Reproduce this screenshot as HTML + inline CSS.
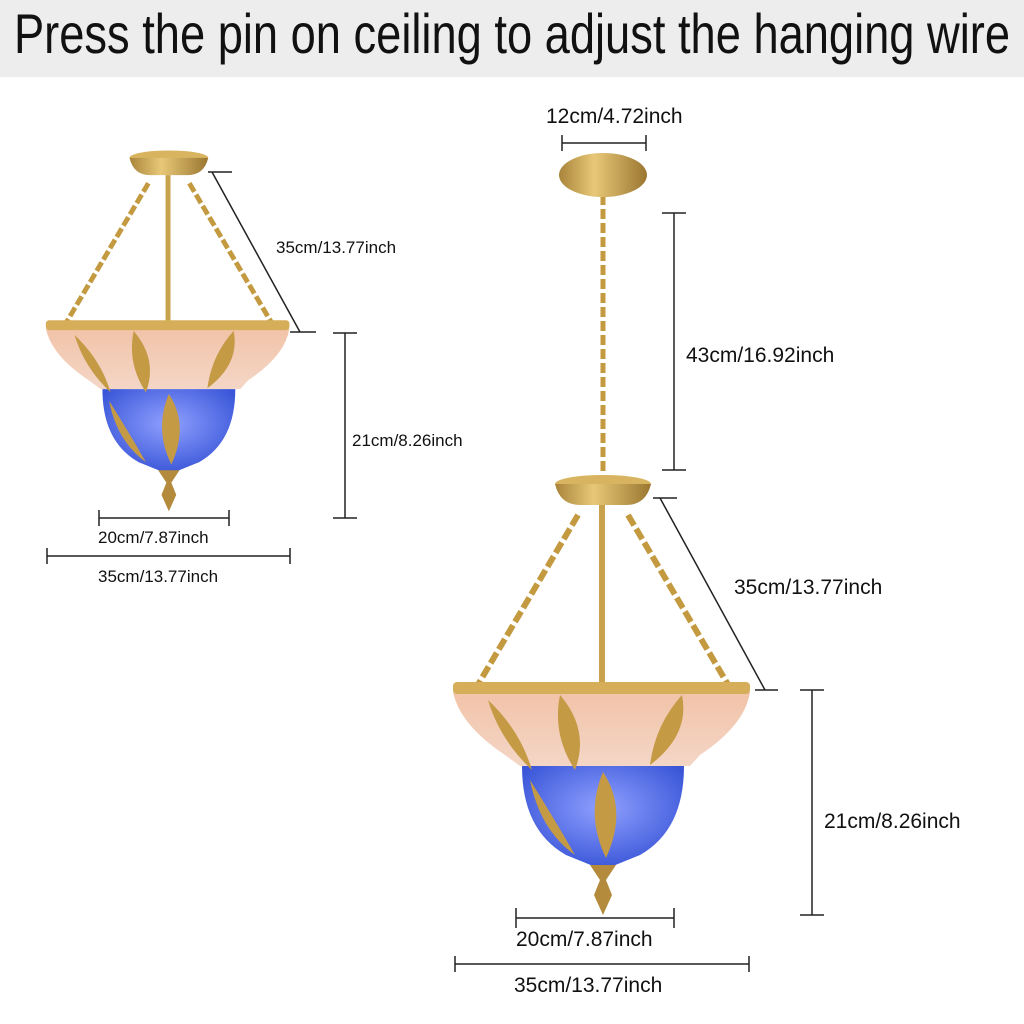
<!DOCTYPE html>
<html><head><meta charset="utf-8"><style>
html,body{margin:0;padding:0;background:#fff}
svg{display:block}
</style></head><body>
<svg width="1024" height="1024" viewBox="0 0 1024 1024" xmlns="http://www.w3.org/2000/svg">
<defs>
<linearGradient id="gold" x1="0" y1="0" x2="1" y2="0">
<stop offset="0" stop-color="#a8843a"/><stop offset="0.4" stop-color="#e8c878"/><stop offset="1" stop-color="#9a7630"/>
</linearGradient>
<linearGradient id="pink" x1="0" y1="0" x2="0" y2="1">
<stop offset="0" stop-color="#f2c3a8"/><stop offset="1" stop-color="#f4d6c6"/>
</linearGradient>
<radialGradient id="blue" cx="0.5" cy="0.4" r="0.6">
<stop offset="0" stop-color="#8fa0ff"/><stop offset="1" stop-color="#3a56d8"/>
</radialGradient>
<g id="lamp">
  <path d="M578 515 L476 688" stroke="#c39a40" stroke-width="6" stroke-dasharray="12 4" fill="none"/>
  <path d="M628 515 L730 688" stroke="#c39a40" stroke-width="6" stroke-dasharray="12 4" fill="none"/>
  <rect x="599" y="505" width="6" height="180" fill="#c9a24e"/>
  <ellipse cx="603" cy="484" rx="48" ry="9" fill="#d9b460"/>
  <path d="M555 484 Q560 505 580 505 L626 505 Q646 505 651 484 Z" fill="url(#gold)"/>
  <path d="M453 692 L750 692 Q745 725 700 755 L690 766 L520 766 L505 755 Q460 725 453 692 Z" fill="url(#pink)"/>
  <rect x="453" y="682" width="297" height="12" rx="4" fill="#d6ae5a"/>
  <path d="M522 766 L684 766 Q684 830 640 855 L603 870 L566 855 Q522 830 522 766 Z" fill="url(#blue)"/>
  <path d="M488 700 Q520 730 532 770 Q500 740 488 700Z" fill="#c49a45"/>
  <path d="M560 695 Q590 730 575 770 Q552 735 560 695Z" fill="#c49a45"/>
  <path d="M682 695 Q690 735 650 765 Q655 725 682 695Z" fill="#c49a45"/>
  <path d="M603 772 Q628 810 606 858 Q585 815 603 772Z" fill="#c49a45"/>
  <path d="M530 780 Q555 820 575 855 Q540 830 530 780Z" fill="#c49a45"/>
  <path d="M590 865 L616 865 L606 880 L612 895 L603 915 L594 895 L600 880 Z" fill="#b48a3c"/>
</g>
</defs>
<rect x="0" y="0" width="1024" height="77" fill="#ededed"/>
<text x="14" y="53" font-family="'Liberation Sans Narrow','Liberation Sans',sans-serif" font-size="56" fill="#111" textLength="996" lengthAdjust="spacingAndGlyphs">Press the pin on ceiling to adjust the hanging wire</text>

<path d="M603 195 L603 475" stroke="#c39a40" stroke-width="5" stroke-dasharray="10 4"/>
<ellipse cx="603" cy="175" rx="44" ry="22" fill="url(#gold)"/>
<use href="#lamp"/>
<use href="#lamp" transform="translate(-325.6,-239) scale(0.82)"/>

<g stroke="#222" stroke-width="1.5" fill="none">
<path d="M212 172 L300 332 M208 172 L232 172 M290 332 L316 332"/>
<path d="M345 333 L345 518 M333 333 L357 333 M333 518 L357 518"/>
<path d="M99 518 L229 518 M99 510 L99 526 M229 510 L229 526"/>
<path d="M47 556 L290 556 M47 548 L47 564 M290 548 L290 564"/>
<path d="M562 143 L646 143 M562 135 L562 151 M646 135 L646 151"/>
<path d="M674 213 L674 470 M662 213 L686 213 M662 470 L686 470"/>
<path d="M660 498 L765 690 M653 498 L677 498 M755 690 L778 690"/>
<path d="M812 690 L812 915 M800 690 L824 690 M800 915 L824 915"/>
<path d="M516 918 L674 918 M516 908 L516 928 M674 908 L674 928"/>
<path d="M455 964 L749 964 M455 956 L455 972 M749 956 L749 972"/>
</g>
<g font-family="'Liberation Sans',sans-serif" fill="#111">
<text x="276" y="253" font-size="17">35cm/13.77inch</text>
<text x="352" y="446" font-size="17">21cm/8.26inch</text>
<text x="98" y="543" font-size="17">20cm/7.87inch</text>
<text x="98" y="582" font-size="17">35cm/13.77inch</text>
<text x="546" y="123" font-size="21">12cm/4.72inch</text>
<text x="686" y="362" font-size="21">43cm/16.92inch</text>
<text x="734" y="594" font-size="21">35cm/13.77inch</text>
<text x="824" y="828" font-size="21">21cm/8.26inch</text>
<text x="516" y="946" font-size="21">20cm/7.87inch</text>
<text x="514" y="992" font-size="21">35cm/13.77inch</text>
</g>
</svg>
</body></html>
